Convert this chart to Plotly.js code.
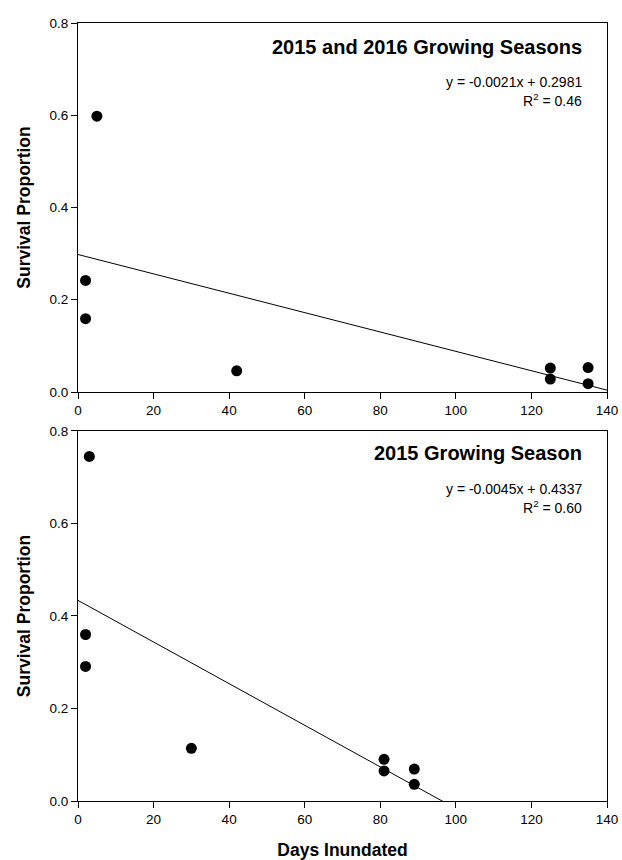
<!DOCTYPE html>
<html>
<head>
<meta charset="utf-8">
<script src="https://cdn.plot.ly/plotly-3.0.1.min.js"></script>
<style>html,body{margin:0;padding:0;background:#fff;}#chart{width:622px;height:860px;}</style>
</head>
<body>
<div id="chart"></div>
<script>
// Panel 1: 2015 and 2016 growing seasons
const daysBoth = [5, 2, 2, 42, 125, 125, 135, 135];
const survBoth = [0.598, 0.242, 0.159, 0.046, 0.052, 0.028, 0.053, 0.018];
const slopeBoth = -0.0021, interceptBoth = 0.2981;
const eqBoth = ["y = -0.0021x + 0.2981", "R<sup>2</sup> = 0.46"];
const titleBoth = "2015 and 2016 Growing Seasons";

// Panel 2: 2015 growing season
const days2015 = [3, 2, 2, 30, 81, 81, 89, 89];
const surv2015 = [0.745, 0.360, 0.291, 0.114, 0.090, 0.065, 0.069, 0.036];
const slope2015 = -0.0045, intercept2015 = 0.4337;
const eq2015 = ["y = -0.0045x + 0.4337", "R<sup>2</sup> = 0.60"];
const title2015 = "2015 Growing Season";

const xTicks = [0, 20, 40, 60, 80, 100, 120, 140];
const yTicks = [0, 0.2, 0.4, 0.6, 0.8];
const xRange = [0, 140];

const FONT = "Liberation Sans, Arial, sans-serif";
const lineX = xRange.slice();

function pts(x, y, xa, ya) {
  return {x: x, y: y, xaxis: xa, yaxis: ya, type: 'scatter', mode: 'markers',
    marker: {color: '#000', size: 11}, cliponaxis: false, hoverinfo: 'skip'};
}
function fit(m, b, xa, ya) {
  return {x: lineX, y: lineX.map(v => m * v + b), xaxis: xa, yaxis: ya, type: 'scatter',
    mode: 'lines', line: {color: '#000', width: 1}, hoverinfo: 'skip'};
}

const data = [
  fit(slopeBoth, interceptBoth, 'x', 'y'),
  pts(daysBoth, survBoth, 'x', 'y'),
  fit(slope2015, intercept2015, 'x2', 'y2'),
  pts(days2015, surv2015, 'x2', 'y2')
];

function xax(anchor, showTitle) {
  const a = {range: xRange, tickvals: xTicks, ticks: 'outside', ticklen: 6, tickwidth: 1, tickcolor: '#000',
    showline: true, linecolor: '#000', linewidth: 1, mirror: true, showgrid: false, zeroline: false,
    ticklabeloverflow: 'allow',
    anchor: anchor, tickfont: {family: FONT, size: 13.5, color: '#000'}};
  if (showTitle) a.title = {text: 'Days Inundated', font: {family: FONT, size: 17.5, color: '#000', weight: 'bold'}, standoff: 20};
  return a;
}
function yax(anchor, domain) {
  return {range: [0, 0.8], tickvals: yTicks, tickformat: '.1f', ticks: 'outside', ticklen: 6, tickwidth: 1,
    tickcolor: '#000', showline: true, linecolor: '#000', linewidth: 1, mirror: true, showgrid: false,
    zeroline: false, anchor: anchor, domain: domain, tickfont: {family: FONT, size: 13.5, color: '#000'},
    title: {text: 'Survival Proportion', font: {family: FONT, size: 17.5, color: '#000', weight: 'bold'}, standoff: 14}};
}

function ann(text, xref, yref, y, size, bold) {
  return {text: bold ? '<b>' + text + '</b>' : text, xref: xref + ' domain', yref: yref + ' domain',
    x: 0.957, y: y, xanchor: 'right', yanchor: 'middle', showarrow: false, align: 'right',
    font: {family: FONT, size: size, color: '#000'}};
}

const layout = {
  width: 622, height: 860,
  margin: {l: 78, r: 15, t: 23, b: 59},
  paper_bgcolor: '#fff', plot_bgcolor: '#fff',
  showlegend: false,
  font: {family: FONT, color: '#000'},
  xaxis: xax('y', false),
  yaxis: yax('x', [0.5257, 1]),
  xaxis2: xax('y2', true),
  yaxis2: yax('x2', [0, 0.4756]),
  annotations: [
    ann(titleBoth, 'x', 'y', 0.935, 20, true),
    ann(eqBoth[0], 'x', 'y', 0.84, 14, false),
    ann(eqBoth[1], 'x', 'y', 0.792, 14, false),
    ann(title2015, 'x2', 'y2', 0.94, 20, true),
    ann(eq2015[0], 'x2', 'y2', 0.843, 14, false),
    ann(eq2015[1], 'x2', 'y2', 0.795, 14, false)
  ]
};

Plotly.newPlot('chart', data, layout, {displayModeBar: false, staticPlot: true});
</script>
</body>
</html>
